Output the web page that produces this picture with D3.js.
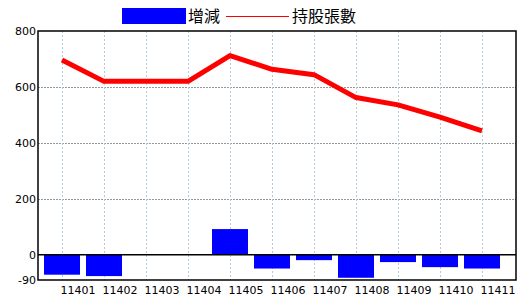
<!DOCTYPE html>
<html>
<head>
<meta charset="utf-8">
<script src="https://cdn.jsdelivr.net/npm/d3@7"></script>
<style>
  body { margin: 0; background: #fff; }
  svg text { font-family: "DejaVu Sans", Arial, sans-serif; }
  .legend text { font-family: "Noto Sans CJK TC", sans-serif; font-size: 16px; }
</style>
</head>
<body>
<div id="chart"></div>
<script>
// data
var months = ['11401','11402','11403','11404','11405','11406','11407','11408','11409','11410','11411'];
var change = [-71, -76, 0, 0, 92, -49, -19, -82, -26, -44, -49];
var shares = [696, 620, 620, 620, 712, 663, 644, 562, 536, 492, 443];
var yTicks = [800, 600, 400, 200, 0, -90];

var width = 520, height = 300;
var plotL = 38, plotR = 516, plotT = 31, plotB = 280;

var svg = d3.select('#chart').append('svg')
  .attr('width', width)
  .attr('height', height);

var x = d3.scaleBand().domain(months).range([41, 503]).paddingInner(0);
var y = d3.scaleLinear().domain([-90, 800]).range([plotB, plotT]);

// grid
var grid = svg.append('g');
grid.selectAll('line.h')
  .data(yTicks.filter(function(d) { return d !== 0 && d !== 800 && d !== -90; }))
  .enter().append('line')
  .attr('x1', plotL).attr('x2', plotR)
  .attr('y1', function(d) { return Math.round(y(d)) + 0.5; })
  .attr('y2', function(d) { return Math.round(y(d)) + 0.5; })
  .attr('stroke', '#999').attr('stroke-dasharray', '2,1');

grid.selectAll('line.v')
  .data(months)
  .enter().append('line')
  .attr('x1', function(d) { return Math.round(x(d) + x.bandwidth() / 2) + 0.5; })
  .attr('x2', function(d) { return Math.round(x(d) + x.bandwidth() / 2) + 0.5; })
  .attr('y1', plotT).attr('y2', plotB)
  .attr('stroke', '#b4cadb').attr('stroke-dasharray', '2,2');

// bars
svg.selectAll('rect.bar')
  .data(change)
  .enter().append('rect')
  .attr('fill', '#0000ff')
  .attr('x', function(d, i) { return x(months[i]) + 3; })
  .attr('width', x.bandwidth() - 6)
  .attr('y', function(d) { return y(Math.max(0, d)); })
  .attr('height', function(d) { return Math.abs(y(d) - y(0)); });

// zero line
svg.append('line')
  .attr('x1', plotL).attr('x2', plotR)
  .attr('y1', y(0)).attr('y2', y(0))
  .attr('stroke', '#000').attr('stroke-width', 1.5);

// shares line
var line = d3.line()
  .x(function(d, i) { return x(months[i]) + x.bandwidth() / 2; })
  .y(function(d) { return y(d); });

svg.append('path')
  .datum(shares)
  .attr('d', line)
  .attr('fill', 'none')
  .attr('stroke', '#ff0000')
  .attr('stroke-width', 5)
  .attr('stroke-linejoin', 'round');

// frame
svg.append('rect')
  .attr('x', plotL).attr('y', plotT)
  .attr('width', plotR - plotL).attr('height', plotB - plotT)
  .attr('fill', 'none').attr('stroke', '#000').attr('stroke-width', 1.5);

// y axis labels
svg.selectAll('text.yl')
  .data(yTicks)
  .enter().append('text')
  .attr('x', 36)
  .attr('y', function(d) { return y(d) + 4; })
  .attr('text-anchor', 'end')
  .attr('font-size', 11)
  .text(function(d) { return d; });

// x axis labels (shifted right of the gridlines)
svg.selectAll('text.xl')
  .data(months)
  .enter().append('text')
  .attr('x', function(d) { return x(d) + x.bandwidth() / 2 + 16; })
  .attr('y', 294)
  .attr('text-anchor', 'middle')
  .attr('font-size', 11)
  .text(function(d) { return d; });

// legend
var lg = svg.append('g').attr('class', 'legend');
lg.append('rect').attr('x', 122).attr('y', 8).attr('width', 64).attr('height', 16).attr('fill', '#0000ff');
lg.append('text').attr('x', 188).attr('y', 22).text('增減');
lg.append('line').attr('x1', 226).attr('x2', 289).attr('y1', 16.5).attr('y2', 16.5)
  .attr('stroke', '#ff0000').attr('stroke-width', 1);
lg.append('text').attr('x', 292).attr('y', 22).text('持股張數');
</script>
</body>
</html>
